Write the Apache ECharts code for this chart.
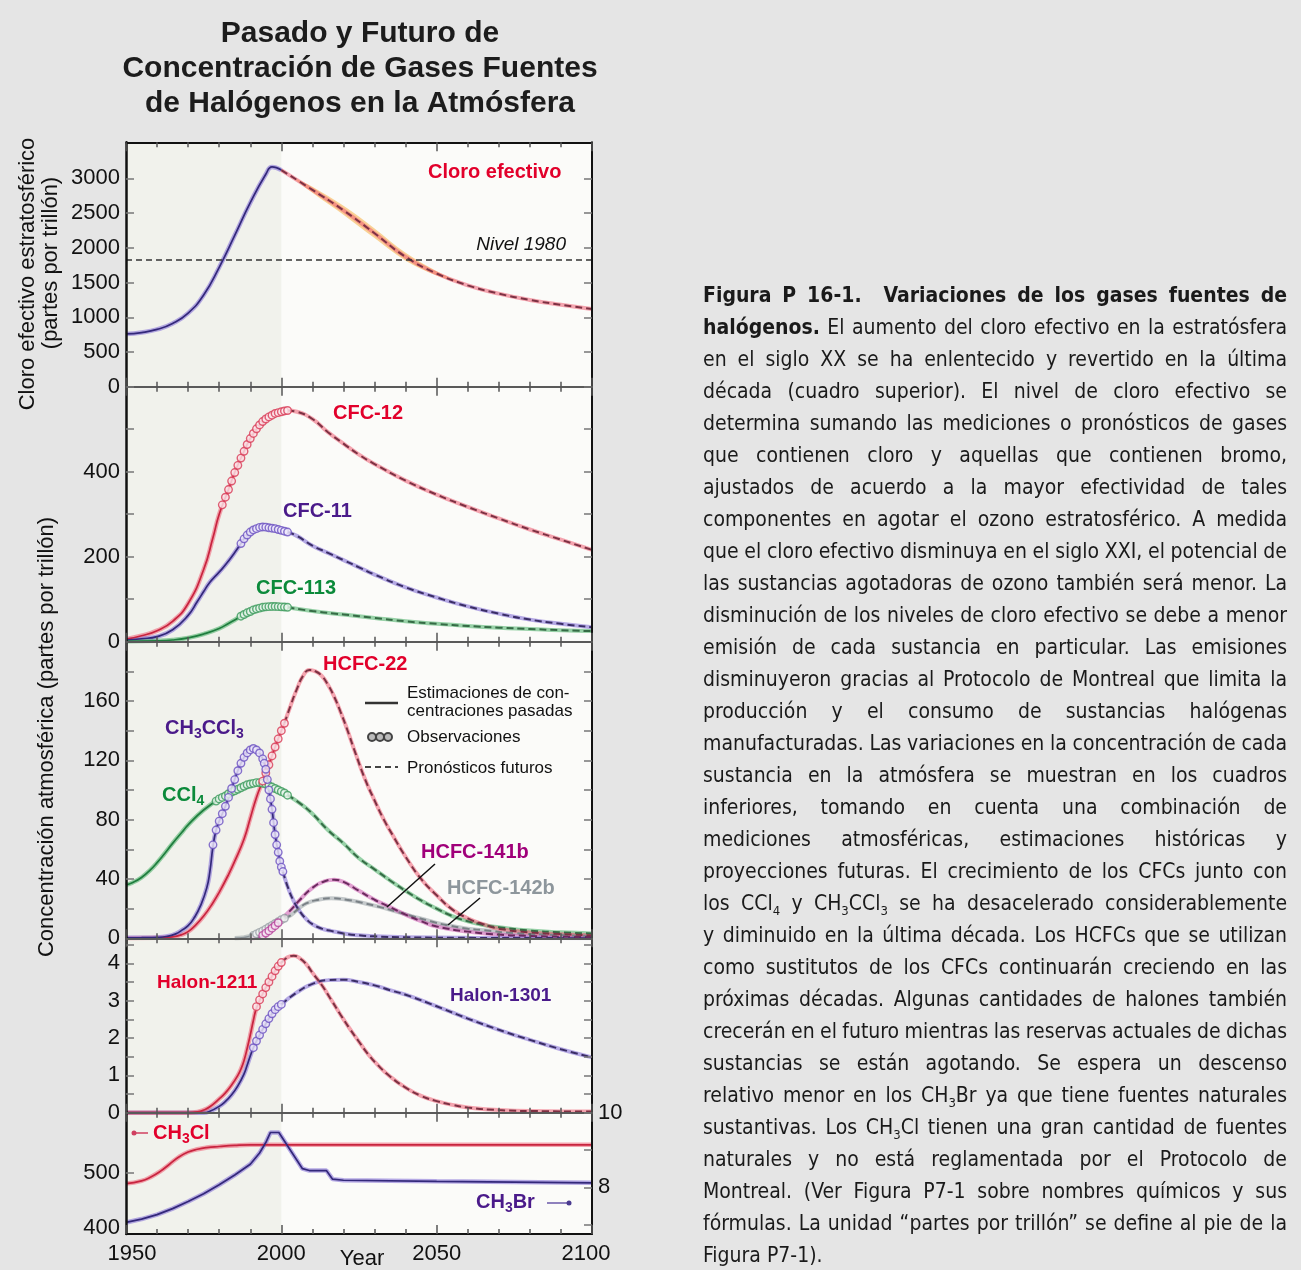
<!DOCTYPE html>
<html><head><meta charset="utf-8">
<script src="https://cdn.jsdelivr.net/npm/echarts@6/dist/echarts.min.js"></script>
<style>
html,body{margin:0;padding:0;background:#e5e5e5;}
#chart{position:absolute;left:0;top:0;width:1301px;height:1270px;}
#cap{position:absolute;left:703px;top:279px;width:584px;font-family:"Liberation Sans Narrow","Arial Narrow","DejaVu Sans Condensed",sans-serif;font-size:21px;line-height:32px;color:#1a1a1a;}
#cap .ln{white-space:nowrap;height:32px;}
#cap sub{font-size:13px;vertical-align:-5px;line-height:0;}
</style></head>
<body>
<div id="chart"></div>
<div id="cap"></div>
<script>
// ---------------- DATA ----------------
const xTicks = [1950, 2000, 2050, 2100];
// Panel 1: effective stratospheric chlorine (ppt)
const effClPast = [[1950,760],[1955,780],[1960,825],[1965,910],[1970,1060],[1975,1320],[1980,1720],[1985,2180],[1990,2650],[1995,3060],[1997,3165],[2000,3120]];
const effClFuture = [[2000,3120],[2010,2835],[2020,2540],[2030,2210],[2040,1870],[2050,1630],[2060,1460],[2070,1340],[2080,1250],[2090,1180],[2100,1120]];
const effClBandLow = [[2004,3000],[2010,2795],[2020,2478],[2030,2142],[2040,1815],[2050,1602],[2058,1488]];
const effClBandHigh = [[2004,3010],[2010,2880],[2020,2605],[2030,2280],[2040,1928],[2050,1662],[2058,1494]];
const nivel1980 = 1830;
const effClTicks = [0,500,1000,1500,2000,2500,3000];
// Panel 2: CFCs
const cfc12Past = [[1950,6],[1955,14],[1960,26],[1965,48],[1970,90],[1975,170],[1978,245],[1980,300],[1983,358],[1985,398],[1988,448],[1990,478],[1993,510],[1995,524],[1998,537],[2000,541]];
const cfc12Obs = [[1981,322],[1982,340],[1983,358],[1984,378],[1985,398],[1986,415],[1987,432],[1988,448],[1989,464],[1990,478],[1991,490],[1992,501],[1993,510],[1994,518],[1995,524],[1996,529],[1997,533],[1998,537],[1999,539],[2000,541],[2001,543],[2002,544]];
const cfc12Future = [[2002,544],[2005,541],[2010,524],[2015,493],[2020,466],[2025,440],[2030,418],[2040,379],[2050,346],[2060,317],[2070,290],[2080,264],[2090,240],[2100,216]];
const cfc11Past = [[1950,4],[1955,7],[1960,12],[1965,28],[1970,62],[1973,95],[1975,118],[1977,140],[1979,156],[1981,172],[1983,190],[1985,210],[1987,231],[1988,242],[1989,251],[1990,258],[1992,266],[1994,270],[1996,268],[1998,266],[2000,262]];
const cfc11Obs = [[1987,231],[1988,242],[1989,251],[1990,258],[1991,263],[1992,266],[1993,269],[1994,270],[1995,269.5],[1996,268],[1997,267],[1998,266],[1999,264],[2000,262],[2001,260],[2002,258]];
const cfc11Future = [[2002,258],[2005,249],[2010,226],[2015,209],[2020,192],[2025,175],[2030,158],[2040,128],[2050,104],[2060,83],[2070,66],[2080,52],[2090,42],[2100,34]];
const cfc113Past = [[1950,1],[1960,2],[1965,4],[1970,9],[1975,18],[1980,31],[1983,43],[1985,51],[1988,64],[1990,71],[1993,79],[1995,82],[1998,83],[2000,82]];
const cfc113Obs = [[1987,60],[1988,64],[1989,68],[1990,71],[1991,75],[1992,77],[1993,79],[1994,81],[1995,82],[1996,82.5],[1997,83],[1998,83],[1999,82.5],[2000,82],[2001,81.5],[2002,81]];
const cfc113Future = [[2002,81],[2010,72],[2020,64],[2030,56],[2040,48],[2050,42],[2060,37],[2070,33],[2080,30],[2090,27],[2100,25]];
const cfcTicks = [100,200,300,400,500];
const cfcLabels = [0,200,400];
// Panel 3: CCl4, CH3CCl3, HCFCs
const ccl4Past = [[1950,36],[1952,37.5],[1955,41],[1958,46.5],[1960,51],[1962,56],[1965,64],[1968,71.5],[1970,76.5],[1975,86.5],[1980,94],[1985,99.5],[1990,104],[1992,105],[1995,104],[1998,101],[2000,99]];
const ccl4Obs = [[1979,92.5],[1980,94],[1981,95],[1982,96],[1983,97.5],[1984,98.5],[1985,99.5],[1986,100.5],[1987,101.5],[1988,102.5],[1989,103.5],[1990,104],[1991,104.5],[1992,105],[1993,105],[1994,104.5],[1995,104],[1996,103],[1997,102],[1998,101],[1999,100],[2000,99],[2001,98],[2002,96.5]];
const ccl4Future = [[2002,96.5],[2006,91],[2010,84],[2015,73],[2020,64],[2025,54],[2030,46.5],[2035,39],[2040,32],[2045,25.5],[2050,20],[2055,15],[2060,11.5],[2065,9],[2070,7.5],[2080,5.2],[2090,4],[2100,3.3]];
const ch3ccl3Past = [[1950,0.3],[1955,0.4],[1960,0.6],[1963,1.2],[1966,3],[1968,5.5],[1970,8.5],[1972,14],[1974,22],[1976,34],[1977,45],[1978,62],[1979,73],[1980,79],[1982,89],[1984,101],[1986,113],[1988,122],[1990,127],[1992,127],[1993,125],[1994,121],[1995,114],[1996,100],[1997,87],[1998,70],[1999,58],[2000,48]];
const ch3ccl3Obs = [[1978,63],[1979,73],[1980,79],[1981,84],[1982,89],[1983,95],[1984,101],[1985,107],[1986,113],[1987,118],[1988,122],[1989,125],[1990,127],[1991,128],[1992,127],[1993,125],[1994,121],[1994.5,118],[1995,114],[1995.5,107],[1996,100],[1996.5,94],[1997,87],[1997.5,78],[1998,70],[1998.5,63],[1999,58],[1999.5,52],[2000,48],[2000.5,45]];
const ch3ccl3Future = [[2000.5,45],[2002,35],[2004,25],[2006,18],[2008,13],[2010,9.5],[2013,6.5],[2016,5],[2020,3.3],[2025,2],[2030,1.3],[2040,0.7],[2060,0.3],[2100,0.1]];
const hcfc22Past = [[1950,0],[1960,0.3],[1965,1],[1968,2.5],[1970,4.5],[1972,8],[1975,15],[1978,24],[1980,31],[1983,43],[1985,52],[1988,67],[1990,81],[1992,95],[1994,106],[1996,117],[1998,129],[2000,140],[2001,145]];
const hcfc22Obs = [[1994,106],[1995,111.5],[1996,117],[1997,123],[1998,129],[1999,134.5],[2000,140],[2001,145]];
const hcfc22Future = [[2001,145],[2003,157],[2005,168],[2007,177],[2009,181],[2011,180],[2013,177],[2015,171],[2017,163],[2019,153],[2021,142],[2024,124],[2027,107],[2030,93],[2033,80],[2036,69],[2040,55],[2045,40],[2050,29],[2055,19.5],[2060,13.5],[2065,9.5],[2070,6.5],[2080,4],[2090,2.8],[2100,2]];
const hcfc141bPast = [[1990,0],[1992,0.5],[1994,2],[1996,5],[1998,8.5],[2000,13]];
const hcfc141bObs = [[1994,2],[1995,3.5],[1996,5],[1997,6.8],[1998,8.5],[1999,10.5]];
const hcfc141bFuture = [[2000,13],[2003,19],[2006,26],[2010,34],[2014,38.5],[2017,39.5],[2020,38],[2025,32],[2030,26],[2035,21],[2040,16],[2045,11.5],[2050,8],[2060,4.5],[2070,2.5],[2080,1.6],[2090,1.1],[2100,0.8]];
const hcfc142bPast = [[1985,0],[1988,0.5],[1990,1.5],[1992,3],[1994,5],[1996,7.5],[1998,10],[2000,12.5],[2001,13.5]];
const hcfc142bObs = [[1991,2],[1992,3],[1993,4],[1994,5],[1995,6.2],[1996,7.5],[1997,8.7],[1998,10],[1999,11.2],[2000,12.5],[2001,13.5]];
const hcfc142bFuture = [[2001,13.5],[2003,15.5],[2005,19],[2008,23.5],[2012,26],[2016,27],[2021,26],[2026,24],[2031,21.5],[2037,18],[2042,15],[2048,11.5],[2053,9],[2060,6.5],[2065,5.5],[2075,3.5],[2090,2.2],[2100,1.5]];
const p3Ticks = [20,40,60,80,100,120,140,160,180];
const p3Labels = [0,40,80,120,160];
// Panel 4: halons
const halon1211Past = [[1950,0],[1970,0],[1973,0.02],[1975,0.07],[1977,0.16],[1980,0.37],[1982,0.53],[1984,0.74],[1986,1.0],[1987,1.17],[1988,1.4],[1989,1.72],[1990,2.08],[1991,2.47],[1992,2.8],[1994,3.18],[1996,3.5],[1998,3.8],[2000,4.02]];
const halon1211Obs = [[1992,2.84],[1993,3.02],[1994,3.18],[1995,3.35],[1996,3.5],[1997,3.65],[1998,3.8],[1999,3.92],[2000,4.02]];
const halon1211Future = [[2000,4.02],[2002,4.16],[2004,4.2],[2006,4.13],[2008,3.98],[2010,3.75],[2013,3.42],[2016,3.03],[2019,2.63],[2022,2.25],[2025,1.9],[2028,1.56],[2031,1.28],[2035,0.97],[2040,0.67],[2045,0.45],[2050,0.31],[2055,0.21],[2060,0.14],[2070,0.07],[2085,0.04],[2100,0.03]];
const halon1301Past = [[1950,0],[1975,0],[1977,0.04],[1980,0.17],[1982,0.3],[1984,0.48],[1986,0.72],[1988,1.04],[1989,1.27],[1990,1.52],[1991,1.74],[1992,1.92],[1994,2.23],[1996,2.52],[1998,2.76],[2000,2.9]];
const halon1301Obs = [[1991,1.74],[1992,1.92],[1993,2.08],[1994,2.23],[1995,2.38],[1996,2.52],[1997,2.65],[1998,2.76],[1999,2.84],[2000,2.9]];
const halon1301Future = [[2000,2.9],[2005,3.22],[2010,3.45],[2015,3.55],[2020,3.56],[2025,3.5],[2030,3.41],[2035,3.28],[2040,3.16],[2050,2.85],[2060,2.52],[2070,2.22],[2080,1.95],[2090,1.7],[2100,1.48]];
const halonTicks = [0.5,1,1.5,2,2.5,3,3.5,4,4.5];
const halonLabels = [0,1,2,3,4];
// Panel 5: CH3Cl (left axis) and CH3Br (right axis)
const ch3clData = [[1950,480],[1955,485],[1958,492],[1961,502],[1964,515],[1967,528],[1970,537],[1973,542],[1976,545],[1980,547],[1985,549],[1990,550],[2000,550],[2050,550],[2100,550]];
const ch3brData = [[1950,7.06],[1955,7.15],[1960,7.27],[1965,7.43],[1970,7.62],[1975,7.83],[1980,8.07],[1985,8.33],[1990,8.62],[1993,8.92],[1995,9.2],[1996.5,9.47],[1999.2,9.47],[2006.8,8.5],[2009,8.45],[2014.5,8.45],[2016.5,8.22],[2020,8.19],[2050,8.16],[2100,8.12]];
const ch3clTicks = [500];
const ch3clLabels = [400,500];
const ch3brTicks = [7,8,9,10];
const ch3brLabels = [8,10];

const captionLines = [
 '<b>Figura P 16-1.&nbsp; Variaciones de los gases fuentes de</b>',
 '<b>halógenos.</b> El aumento del cloro efectivo en la estratósfera',
 'en el siglo XX se ha enlentecido y revertido en la última',
 'década (cuadro superior). El nivel de cloro efectivo se',
 'determina sumando las mediciones o pronósticos de gases',
 'que contienen cloro y aquellas que contienen bromo,',
 'ajustados de acuerdo a la mayor efectividad de tales',
 'componentes en agotar el ozono estratosférico. A medida',
 'que el cloro efectivo disminuya en el siglo XXI, el potencial de',
 'las sustancias agotadoras de ozono también será menor. La',
 'disminución de los niveles de cloro efectivo se debe a menor',
 'emisión de cada sustancia en particular. Las emisiones',
 'disminuyeron gracias al Protocolo de Montreal que limita la',
 'producción y el consumo de sustancias halógenas',
 'manufacturadas. Las variaciones en la concentración de cada',
 'sustancia en la atmósfera se muestran en los cuadros',
 'inferiores, tomando en cuenta una combinación de',
 'mediciones atmosféricas, estimaciones históricas y',
 'proyecciones futuras. El crecimiento de los CFCs junto con',
 'los CCl<sub>4</sub> y CH<sub>3</sub>CCl<sub>3</sub> se ha desacelerado considerablemente',
 'y diminuido en la última década. Los HCFCs que se utilizan',
 'como sustitutos de los CFCs continuarán creciendo en las',
 'próximas décadas. Algunas cantidades de halones también',
 'crecerán en el futuro mientras las reservas actuales de dichas',
 'sustancias se están agotando. Se espera un descenso',
 'relativo menor en los CH<sub>3</sub>Br ya que tiene fuentes naturales',
 'sustantivas. Los CH<sub>3</sub>Cl tienen una gran cantidad de fuentes',
 'naturales y no está reglamentada por el Protocolo de',
 'Montreal. (Ver Figura P7-1 sobre nombres químicos y sus',
 'fórmulas. La unidad “partes por trillón” se define al pie de la',
 'Figura P7-1).'
];

// ---------------- CAPTION ----------------
const cap = document.getElementById('cap');
cap.innerHTML = captionLines.map(l => '<div class="ln"><span>' + l + '</span></div>').join('');
const lns = cap.querySelectorAll('.ln');
lns.forEach((d, i) => {
  if (i === lns.length - 1) return;
  const s = d.firstChild;
  const w = s.getBoundingClientRect().width;
  const n = (s.textContent.match(/[ \u00a0]/g) || []).length;
  if (n) d.style.wordSpacing = ((584 - w) / n) + 'px';
});

// ---------------- CHART ----------------
const FF = '"Liberation Sans", Arial, Helvetica, sans-serif';
const LAYOUT = [
  {top:142.3, h:244.4},
  {top:386.7, h:255},
  {top:641.7, h:296.6},
  {top:938.3, h:174.4},
  {top:1112.7, h:121.3}
];
const COL = {
  red:    {halo:'rgba(238,92,115,0.55)', core:'#c8243f', dash:'#7d3143', obs:'#d83a55', fill:'#fdeaee', text:'#e2002b'},
  purple: {halo:'rgba(135,115,215,0.6)', core:'#33287a', dash:'#3a2d66', obs:'#6a50c0', fill:'#efeafb', text:'#4a1a8a'},
  green:  {halo:'rgba(70,175,100,0.55)', core:'#1f7d3e', dash:'#356b45', obs:'#3a9a5a', fill:'#e8f5ec', text:'#0b8a3a'},
  magenta:{halo:'rgba(200,70,170,0.5)',  core:'#9c1a84', dash:'#6b2a5e', obs:'#b5409a', fill:'#f8e6f3', text:'#a0007a'},
  gray:   {halo:'rgba(160,168,172,0.6)', core:'#8c9499', dash:'#7a8186', obs:'#9aa1a6', fill:'#f1f2f3', text:'#8d969c'}
};

const grids = LAYOUT.map(g => ({left:126, width:466, top:g.top, height:g.h, show:true,
  backgroundColor:'#fbfbf9', borderWidth:0, containLabel:false, outerBoundsMode:'none'}));

function xAx(i, pos) {
  const outer = (i === 0 && pos === 'top') || (i === 4 && pos === 'bottom');
  const showLab = (i === 4 && pos === 'bottom');
  return {type:'value', gridIndex:i, position:pos, min:1950, max:2100, interval:50,
    axisLine:{show:true, onZero:false, lineStyle:{color: outer ? '#111' : '#5a5a5a', width:2}},
    axisTick:{show:true, inside:true, length:9, lineStyle:{color:'#555', width:1.5}},
    minorTick:{show:true, splitNumber:5, length:5, lineStyle:{color:'#555', width:1.5}},
    splitLine:{show:false}, minorSplitLine:{show:false},
    axisLabel: showLab ? {show:true, margin:9, fontSize:22, color:'#111', fontFamily:FF,
      formatter: v => v === xTicks[0] ? '{l|' + v + '}' : (v === xTicks[3] ? '{r|' + v + '}' : String(v)),
      rich:{l:{padding:[0,0,0,12], fontSize:22, color:'#111', fontFamily:FF},
            r:{padding:[0,12,0,0], fontSize:22, color:'#111', fontFamily:FF}}} : {show:false},
    z:6};
}
function yAx(gi, pos, min, max, ticks, labels) {
  return {type:'value', gridIndex:gi, position:pos, min:min, max:max,
    axisLine:{show:true, onZero:false, lineStyle:{color:'#111', width: pos === 'left' ? 2.5 : 2}},
    axisTick:{show:true, inside:true, length:8, customValues:ticks, lineStyle:{color:'#777', width:1.5}},
    axisLabel: labels ? {show:true, customValues:labels, margin:6, fontSize:22, color:'#111', fontFamily:FF,
      formatter: v => String(v)} : {show:false},
    splitLine:{show:false}, z:6};
}

const xAxes = [];
for (let i = 0; i < 5; i++) { xAxes.push(xAx(i, 'bottom')); xAxes.push(xAx(i, 'top')); }
const yAxes = [
  yAx(0,'left',0,3520,effClTicks,effClTicks), yAx(0,'right',0,3520,effClTicks,null),
  yAx(1,'left',0,600,cfcTicks,cfcLabels), yAx(1,'right',0,600,cfcTicks,null),
  yAx(2,'left',0,200,p3Ticks,p3Labels), yAx(2,'right',0,200,p3Ticks,null),
  yAx(3,'left',0,4.67,halonTicks,halonLabels), yAx(3,'right',0,4.67,halonTicks,null),
  yAx(4,'left',389,608,ch3clTicks,ch3clLabels), yAx(4,'right',6.75,10,ch3brTicks,ch3brLabels)
];

const series = [];
// past shading per panel
for (let i = 0; i < 5; i++) {
  series.push({type:'line', xAxisIndex:2*i, yAxisIndex:2*i, data:[[1950, yAxes[2*i].min]], symbol:'none',
    lineStyle:{width:0}, silent:true, z:1,
    markArea:{silent:true, itemStyle:{color:'#f1f2ec'}, data:[[{xAxis:1950},{xAxis:2000}]]}});
}
const SM = 0.5;
function past(gi, ya, data, c, smooth) {
  const sm = smooth === undefined ? SM : smooth;
  series.push({type:'line', xAxisIndex:2*gi, yAxisIndex:ya, data:data, symbol:'none', smooth:sm,
    lineStyle:{color:c.halo, width:4.5}, silent:true, z:2});
  series.push({type:'line', xAxisIndex:2*gi, yAxisIndex:ya, data:data, symbol:'none', smooth:sm,
    lineStyle:{color:c.core, width:1.7}, silent:true, z:3});
}
function future(gi, ya, data, c) {
  series.push({type:'line', xAxisIndex:2*gi, yAxisIndex:ya, data:data, symbol:'none', smooth:SM,
    lineStyle:{color:c.halo, width:4}, silent:true, z:2});
  series.push({type:'line', xAxisIndex:2*gi, yAxisIndex:ya, data:data, symbol:'none', smooth:SM,
    lineStyle:{color:c.dash, width:2, type:[7,4]}, silent:true, z:3});
}
function obs(gi, ya, data, c) {
  series.push({type:'scatter', xAxisIndex:2*gi, yAxisIndex:ya, data:data, symbol:'circle', symbolSize:7.5,
    itemStyle:{color:c.fill, borderColor:c.obs, borderWidth:1.4}, silent:true, z:4});
}

// Panel 1
series.push({type:'custom', xAxisIndex:0, yAxisIndex:0, data:[effClBandLow[0]], silent:true, z:2,
  renderItem: function (params, api) {
    const pts = effClBandHigh.map(p => api.coord(p)).concat(effClBandLow.slice().reverse().map(p => api.coord(p)));
    return {type:'polygon', shape:{points:pts, smooth:0.35}, style:{fill:'rgba(247,168,50,0.5)'}};
  }});
past(0, 0, effClPast, COL.purple);
future(0, 0, effClFuture, COL.red);
series.push({type:'line', xAxisIndex:0, yAxisIndex:0, data:[[1950,0]], symbol:'none', lineStyle:{width:0}, silent:true, z:5,
  markLine:{silent:true, symbol:['none','none'], label:{show:false},
    lineStyle:{type:[6,4], color:'#333', width:1.5}, data:[{yAxis:nivel1980}]}});
// Panel 2
past(1, 2, cfc12Past, COL.red); future(1, 2, cfc12Future, COL.red); obs(1, 2, cfc12Obs, COL.red);
past(1, 2, cfc11Past, COL.purple); future(1, 2, cfc11Future, COL.purple); obs(1, 2, cfc11Obs, COL.purple);
past(1, 2, cfc113Past, COL.green); future(1, 2, cfc113Future, COL.green); obs(1, 2, cfc113Obs, COL.green);
// Panel 3
past(2, 4, ccl4Past, COL.green); future(2, 4, ccl4Future, COL.green); obs(2, 4, ccl4Obs, COL.green);
past(2, 4, hcfc142bPast, COL.gray); future(2, 4, hcfc142bFuture, COL.gray); obs(2, 4, hcfc142bObs, COL.gray);
past(2, 4, hcfc141bPast, COL.magenta); future(2, 4, hcfc141bFuture, COL.magenta); obs(2, 4, hcfc141bObs, COL.magenta);
past(2, 4, hcfc22Past, COL.red); future(2, 4, hcfc22Future, COL.red); obs(2, 4, hcfc22Obs, COL.red);
past(2, 4, ch3ccl3Past, COL.purple); future(2, 4, ch3ccl3Future, COL.purple); obs(2, 4, ch3ccl3Obs, COL.purple);
// Panel 4
past(3, 6, halon1301Past, COL.purple); future(3, 6, halon1301Future, COL.purple); obs(3, 6, halon1301Obs, COL.purple);
past(3, 6, halon1211Past, COL.red); future(3, 6, halon1211Future, COL.red); obs(3, 6, halon1211Obs, COL.red);
// Panel 5
past(4, 8, ch3clData, COL.red);
past(4, 9, ch3brData, COL.purple, false);

// ---------------- TEXT / ANNOTATIONS ----------------
function txt(x, y, text, o) {
  o = o || {};
  return {type:'text', x:x, y:y, rotation:o.rot || 0, z:50, silent:true,
    style:{text:text, fontSize:o.size || 20, fontWeight:o.weight || 'normal', fontStyle:o.style || 'normal',
      fontFamily:FF, fill:o.color || '#111', align:o.align || 'left', textAlign:o.align || 'left',
      verticalAlign:'middle', textVerticalAlign:'middle', rich:o.rich}};
}
function chem(x, y, text, color) {
  return txt(x, y, text, {color:color, rich:{
    a:{fontSize:20, fontWeight:'bold', fontFamily:FF, fill:color, lineHeight:24},
    s:{fontSize:14, fontWeight:'bold', fontFamily:FF, fill:color, lineHeight:14, padding:[12,0,0,0]}}});
}
const graphic = [
  txt(360, 34, 'Pasado y Futuro de', {size:30, weight:'bold', align:'center', color:'#1c1c1c'}),
  txt(360, 69, 'Concentración de Gases Fuentes', {size:30, weight:'bold', align:'center', color:'#1c1c1c'}),
  txt(360, 104, 'de Halógenos en la Atmósfera', {size:30, weight:'bold', align:'center', color:'#1c1c1c'}),
  txt(28, 274, 'Cloro efectivo estratosférico', {size:22, align:'center', rot:Math.PI/2}),
  txt(51, 263, '(partes por trillón)', {size:22, align:'center', rot:Math.PI/2}),
  txt(47, 737, 'Concentración atmosférica (partes por trillón)', {size:22, align:'center', rot:Math.PI/2}),
  txt(362, 1259, 'Year', {size:22, align:'center'}),
  txt(428, 172, 'Cloro efectivo', {size:20, weight:'bold', color:COL.red.text}),
  txt(566, 245, 'Nivel 1980', {size:19, style:'italic', align:'right'}),
  txt(333, 413, 'CFC-12', {size:20, weight:'bold', color:COL.red.text}),
  txt(283, 511, 'CFC-11', {size:20, weight:'bold', color:COL.purple.text}),
  txt(256, 588, 'CFC-113', {size:20, weight:'bold', color:COL.green.text}),
  txt(323, 664, 'HCFC-22', {size:20, weight:'bold', color:COL.red.text}),
  chem(165, 728, '{a|CH}{s|3}{a|CCl}{s|3}', COL.purple.text),
  chem(162, 795, '{a|CCl}{s|4}', COL.green.text),
  txt(421, 852, 'HCFC-141b', {size:20, weight:'bold', color:COL.magenta.text}),
  txt(447, 888, 'HCFC-142b', {size:20, weight:'bold', color:COL.gray.text}),
  {type:'line', z:50, silent:true, shape:{x1:435, y1:864, x2:387, y2:907}, style:{stroke:'#111', lineWidth:1.5}},
  {type:'line', z:50, silent:true, shape:{x1:480, y1:898, x2:448, y2:925}, style:{stroke:'#111', lineWidth:1.5}},
  // legend
  {type:'line', z:50, silent:true, shape:{x1:365, y1:703, x2:398, y2:703}, style:{stroke:'#333', lineWidth:2.5}},
  {type:'circle', z:50, silent:true, shape:{cx:372, cy:737, r:4}, style:{fill:'#bbb', stroke:'#444', lineWidth:2}},
  {type:'circle', z:50, silent:true, shape:{cx:380, cy:737, r:4}, style:{fill:'#bbb', stroke:'#444', lineWidth:2}},
  {type:'circle', z:50, silent:true, shape:{cx:388, cy:737, r:4}, style:{fill:'#bbb', stroke:'#444', lineWidth:2}},
  {type:'line', z:50, silent:true, shape:{x1:365, y1:767, x2:398, y2:767}, style:{stroke:'#444', lineWidth:2, lineDash:[6,4]}},
  txt(407, 693, 'Estimaciones de con-', {size:17}),
  txt(407, 711, 'centraciones pasadas', {size:17}),
  txt(407, 737, 'Observaciones', {size:17}),
  txt(407, 768, 'Pronósticos futuros', {size:17}),
  txt(157, 983, 'Halon-1211', {size:19, weight:'bold', color:COL.red.text}),
  txt(450, 996, 'Halon-1301', {size:19, weight:'bold', color:COL.purple.text}),
  chem(153, 1133, '{a|CH}{s|3}{a|Cl}', COL.red.text),
  chem(476, 1202, '{a|CH}{s|3}{a|Br}', COL.purple.text),
  {type:'line', z:50, silent:true, shape:{x1:133, y1:1133, x2:148, y2:1133}, style:{stroke:'#d04060', lineWidth:1.5}},
  {type:'circle', z:50, silent:true, shape:{cx:134, cy:1133, r:2.5}, style:{fill:'#d04060'}},
  {type:'line', z:50, silent:true, shape:{x1:547, y1:1203, x2:570, y2:1203}, style:{stroke:'#6a58a8', lineWidth:1.5}},
  {type:'circle', z:50, silent:true, shape:{cx:569, cy:1203, r:2.5}, style:{fill:'#4a3a90'}}
];

const chart = echarts.init(document.getElementById('chart'), null, {renderer:'canvas', width:1301, height:1270});
chart.setOption({
  backgroundColor:'#e5e5e5',
  animation:false,
  grid:grids,
  xAxis:xAxes,
  yAxis:yAxes,
  series:series,
  graphic:graphic
});
</script>
</body></html>
